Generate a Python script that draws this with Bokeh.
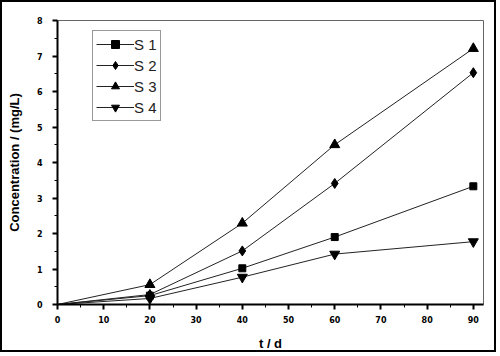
from bokeh.plotting import figure
from bokeh.models import Range1d, FixedTicker, Legend, LegendItem
from bokeh.embed import file_html
from bokeh.resources import INLINE

days = [0, 20, 40, 60, 90]
s1 = [0, 0.25, 1.02, 1.90, 3.33]
s2 = [0, 0.28, 1.51, 3.41, 6.53]
s3 = [0, 0.56, 2.29, 4.50, 7.21]
s4 = [0, 0.17, 0.77, 1.42, 1.77]
names = ["S 1", "S 2", "S 3", "S 4"]
x_ticks = [0, 10, 20, 30, 40, 50, 60, 70, 80, 90]
y_ticks = [0, 1, 2, 3, 4, 5, 6, 7, 8]

p = figure(width=496, height=352, output_backend="svg", toolbar_location=None,
           x_range=Range1d(0, 92.2), y_range=Range1d(0, 8),
           min_border_left=55, min_border_right=15, min_border_top=18, min_border_bottom=50)
p.styles = {"border": "2px solid black"}
p.background_fill_color = "white"
p.border_fill_color = "white"
p.grid.visible = False
p.outline_line_color = "#666666"
p.outline_line_width = 1

for ax, ticks in ((p.xaxis[0], x_ticks), (p.yaxis[0], y_ticks)):
    ax.ticker = FixedTicker(ticks=ticks, minor_ticks=[t + (ticks[1] - ticks[0]) / 2 for t in ticks[:-1]])
    ax.axis_line_width = 2
    ax.axis_line_color = "black"
    ax.major_tick_in = 0
    ax.major_tick_out = 5
    ax.minor_tick_in = 0
    ax.minor_tick_out = 3
    ax.major_tick_line_width = 2
    ax.minor_tick_line_width = 1
    ax.major_label_text_font = "DejaVu Sans"
    ax.major_label_text_font_style = "bold"
    ax.major_label_text_font_size = "8px"
    ax.major_label_text_color = "black"
    ax.axis_label_text_font = "Liberation Sans"
    ax.axis_label_text_font_style = "bold"
    ax.axis_label_text_font_size = "13px"
    ax.axis_label_text_color = "black"

p.xaxis.axis_label = "t / d"
p.yaxis.axis_label = "Concentration / (mg/L)"
p.xaxis.major_label_standoff = 6
p.yaxis.major_label_standoff = 10
p.xaxis.axis_label_standoff = 10
p.yaxis.axis_label_standoff = 12

series = [s1, s2, s3, s4]
markers = ["square", "diamond", "triangle", "inverted_triangle"]
sizes = [7, 10, 10, 10]
items = []
for name, ys, m, sz in zip(names, series, markers, sizes):
    ln = p.line(days, ys, line_color="#222222", line_width=1)
    sc = p.scatter(days[1:], ys[1:], marker=m, size=sz, fill_color="black", line_color="black")
    items.append(LegendItem(label=name, renderers=[ln, sc]))

legend = Legend(items=items, location=(35, 183))
legend.glyph_width = 38
legend.glyph_height = 20
legend.label_height = 20
legend.spacing = 1
legend.padding = 3
legend.margin = 0
legend.label_standoff = 0
legend.label_text_font = "Liberation Sans"
legend.label_text_font_size = "15px"
legend.label_text_color = "#222222"
legend.border_line_color = "#333333"
legend.border_line_width = 1.5
legend.background_fill_alpha = 1
p.add_layout(legend)

open("out.html", "w").write(file_html(p, INLINE))
